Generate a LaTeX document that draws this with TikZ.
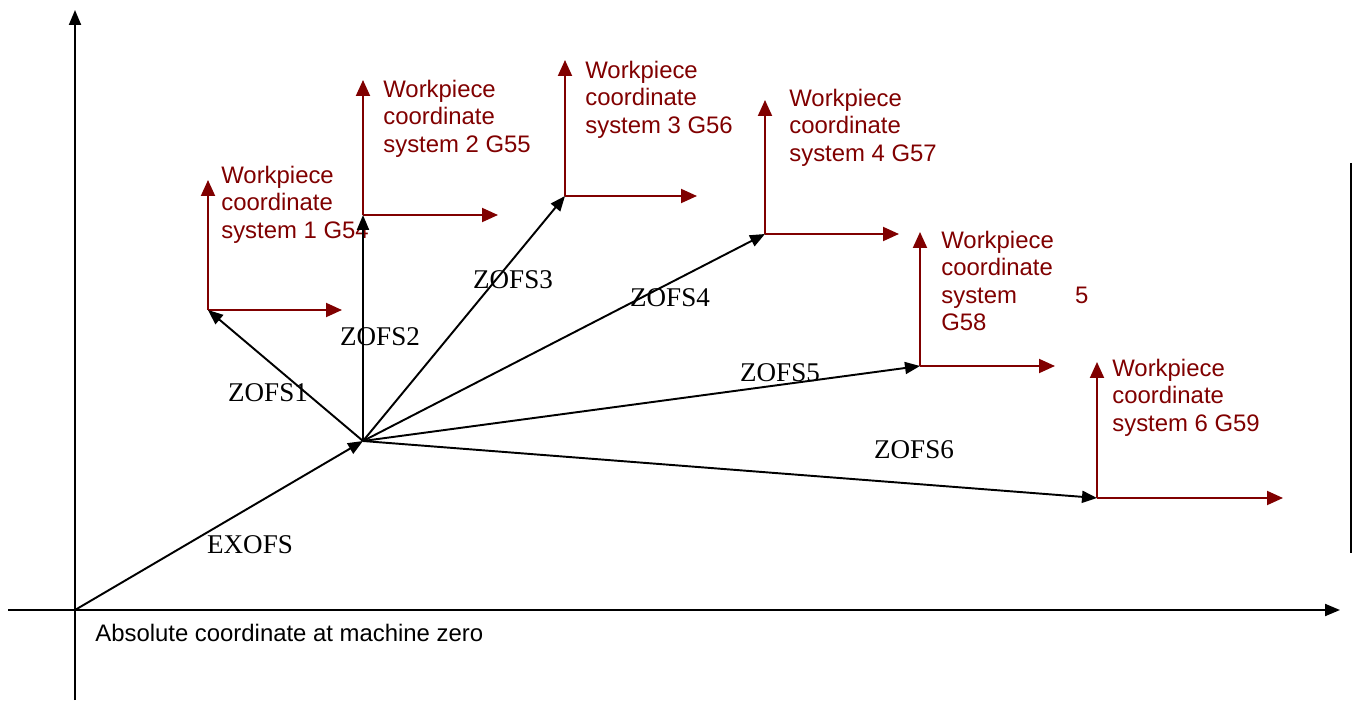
\documentclass[tikz,border=0pt]{standalone}
\usepackage{fontspec}
\setmainfont{Liberation Serif}
\newfontfamily\arialfont{Liberation Sans}
\usetikzlibrary{arrows.meta}
\definecolor{wcsred}{HTML}{800000}

\begin{document}
\begin{tikzpicture}[x=0.02cm, y=-0.02cm,
  axis/.style={-{Triangle[length=3mm, width=2.4mm]}, line width=1.1pt},
  ofs/.style={-{Triangle[length=3mm, width=2.4mm]}, line width=1.1pt},
  wcs/.style={-{Triangle[length=3.2mm, width=2.8mm]}, line width=1.1pt, wcsred},
  wlab/.style={anchor=north west, inner sep=0pt, align=left, text=wcsred,
    font=\arialfont\fontsize{13.6}{15.5}\selectfont},
  olab/.style={inner sep=0pt, font=\fontsize{15.4}{18}\selectfont}
]
\useasboundingbox (0,0) rectangle (1352,702);

% machine axes
\coordinate (O) at (75,610);
\coordinate (xl) at (8,610);
\coordinate (xr) at (1340,610);
\coordinate (yb) at (75,700);
\coordinate (yt) at (75,10);
\draw[axis] (xl) -- (xr);
\draw[axis] (yb) -- (yt);
\node[anchor=north west, inner sep=0pt, font=\arialfont\fontsize{13.6}{15.5}\selectfont]
  (abs) at (95,624) {Absolute coordinate at machine zero};

% workpiece coordinate systems
\foreach \n/\ox/\oy/\ly/\lx in {1/208/310/180/342, 2/363/215/80/498,
    3/565/196/60/697, 4/765/234/100/899, 5/920/366/232/1055, 6/1097/498/362/1283} {
  \coordinate (w\n) at (\ox,\oy);
  \coordinate (w\n y) at (\ox,\ly);
  \coordinate (w\n x) at (\lx,\oy);
  \draw[wcs] (w\n) -- (w\n y);
  \draw[wcs] (w\n) -- (w\n x);
}
\node[wlab] (lab1) at (221,166) {Workpiece\\coordinate\\system 1 G54};
\node[wlab] (lab2) at (383,80) {Workpiece\\coordinate\\system 2 G55};
\node[wlab] (lab3) at (585,61) {Workpiece\\coordinate\\system 3 G56};
\node[wlab] (lab4) at (789,89) {Workpiece\\coordinate\\system 4 G57};
\node[wlab] (lab5) at (941,231) {Workpiece\\coordinate\\system\hspace{1.16cm}5\\G58};
\node[wlab] (lab6) at (1112,359) {Workpiece\\coordinate\\system 6 G59};

% offsets
\coordinate (P) at (363,441);
\draw[ofs] (O) -- (P);
\foreach \n in {1,...,6} \draw[ofs] (P) -- (w\n);
\node[olab] (exofs) at (250,545) {EXOFS};
\node[olab] (z1) at (268,393) {ZOFS1};
\node[olab] (z2) at (380,337) {ZOFS2};
\node[olab] (z3) at (513,280) {ZOFS3};
\node[olab] (z4) at (670,298) {ZOFS4};
\node[olab] (z5) at (780,373) {ZOFS5};
\node[olab] (z6) at (914,450) {ZOFS6};

% frame edge
\draw[line width=0.8pt] (1351,163) -- (1351,553);
\end{tikzpicture}
\end{document}
